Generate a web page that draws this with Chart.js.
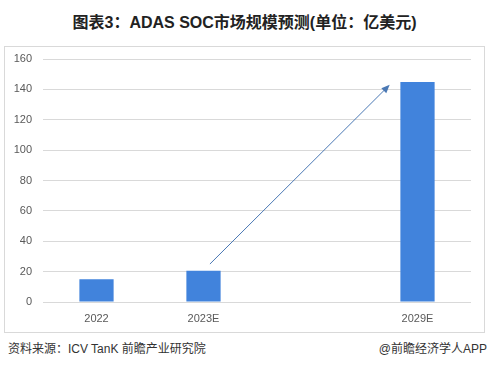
<!DOCTYPE html>
<html>
<head>
<meta charset="utf-8">
<script src="https://cdn.jsdelivr.net/npm/chart.js@4/dist/chart.umd.min.js"></script>
<style>
    html, body { margin: 0; padding: 0; background: #fff; }
    body { width: 489px; height: 377px; position: relative; overflow: hidden; font-family: "Liberation Sans", "Noto Sans CJK SC", sans-serif; }
    #title {
        position: absolute; left: 0; top: 9px; width: 489px; text-align: center;
        font: bold 16px "Liberation Sans", "Noto Sans CJK SC", sans-serif; color: #222;
    }
    #box {
        position: absolute; left: 4px; top: 46px; width: 479px; height: 285px;
        border: 1px solid #d9d9d9;
    }
    #box canvas { display: block; }
    #source { position: absolute; left: 8px; top: 339px; font-size: 12px; color: #333; }
    #brand { position: absolute; right: 2px; top: 339px; font-size: 12px; color: #333; }
</style>
</head>
<body>
<div id="title">图表3：ADAS SOC市场规模预测(单位：亿美元)</div>
<div id="box"><canvas id="chart" width="479" height="285"></canvas></div>
<div id="source">资料来源：ICV TanK 前瞻产业研究院</div>
<div id="brand">@前瞻经济学人APP</div>

<script>
    // data
    const categories = ['2022', '2023E', '', '2029E'];
    const marketSize = [15, 20.6, null, 144.8];
    const yTicks = [0, 20, 40, 60, 80, 100, 120, 140, 160];

    // growth arrow, in data units (category index, value)
    const arrowFrom = [1.06, 25];
    const arrowTo = [2.74, 143];

    const arrowPlugin = {
        id: 'growthArrow',
        afterDatasetsDraw(chart) {
            const { ctx, scales: { x, y } } = chart;
            const x1 = x.getPixelForValue(arrowFrom[0]);
            const y1 = y.getPixelForValue(arrowFrom[1]);
            const x2 = x.getPixelForValue(arrowTo[0]);
            const y2 = y.getPixelForValue(arrowTo[1]);
            const ang = Math.atan2(y2 - y1, x2 - x1);
            const head = 9;

            ctx.save();
            ctx.strokeStyle = '#4a78b4';
            ctx.fillStyle = '#4a78b4';
            ctx.lineWidth = 1;
            ctx.beginPath();
            ctx.moveTo(x1, y1);
            ctx.lineTo(x2 - Math.cos(ang) * head * 0.8, y2 - Math.sin(ang) * head * 0.8);
            ctx.stroke();
            ctx.beginPath();
            ctx.moveTo(x2, y2);
            ctx.lineTo(x2 - head * Math.cos(ang - 0.4), y2 - head * Math.sin(ang - 0.4));
            ctx.lineTo(x2 - head * Math.cos(ang + 0.4), y2 - head * Math.sin(ang + 0.4));
            ctx.closePath();
            ctx.fill();
            ctx.restore();
        }
    };

    new Chart(document.getElementById('chart'), {
        type: 'bar',
        data: {
            labels: categories,
            datasets: [{
                data: marketSize,
                backgroundColor: '#4183dc',
                categoryPercentage: 1,
                barPercentage: 0.32
            }]
        },
        options: {
            responsive: false,
            animation: false,
            layout: { padding: { top: 0, right: 13, bottom: 0, left: 0 } },
            plugins: { legend: { display: false }, tooltip: { enabled: false } },
            scales: {
                x: {
                    afterFit: axis => { axis.height = 30; },
                    grid: { display: false, drawTicks: false },
                    border: { display: false },
                    ticks: {
                        color: '#595959',
                        padding: 10,
                        font: { family: 'Liberation Sans', size: 11 }
                    }
                },
                y: {
                    min: 0,
                    max: 160,
                    afterBuildTicks: axis => { axis.ticks = yTicks.map(v => ({ value: v })); },
                    afterFit: axis => {
                        axis.width = 38;
                        axis.paddingTop = 12;
                    },
                    grid: { color: '#d9d9d9', drawTicks: false },
                    border: { display: false },
                    ticks: {
                        color: '#595959',
                        padding: 11,
                        font: { family: 'Liberation Sans', size: 11 }
                    }
                }
            }
        },
        plugins: [arrowPlugin]
    });
</script>
</body>
</html>
